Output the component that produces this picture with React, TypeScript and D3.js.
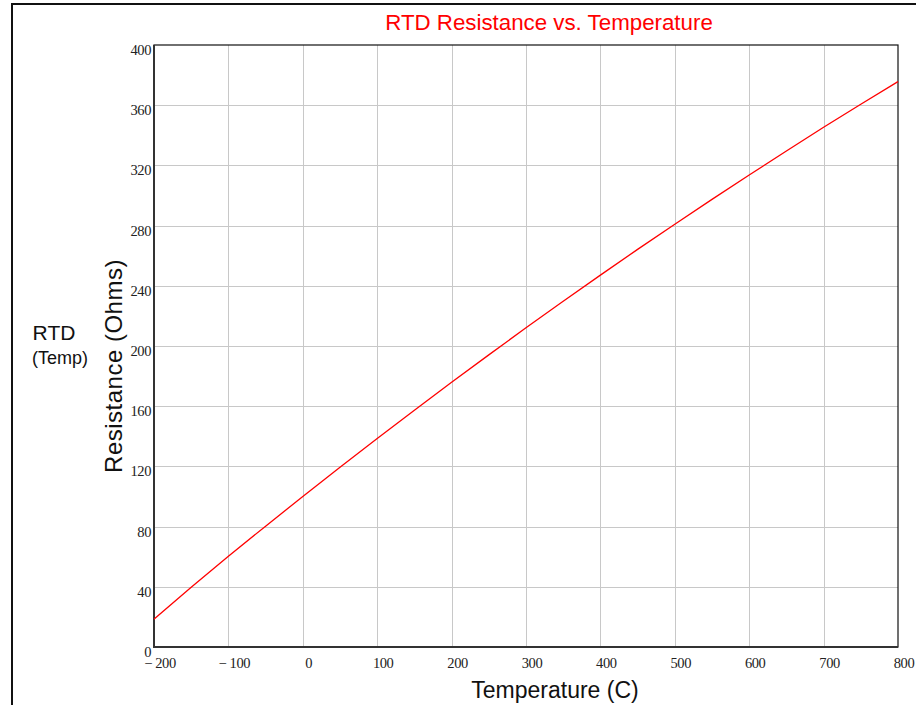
import React, { useRef, useEffect } from 'react';
import * as d3 from 'd3';

// temperature (C) and resistance (Ohms)
const temps = [-200, -150, -100, -50, 0, 50, 100, 150, 200, 250, 300, 350, 400, 450, 500, 550, 600, 650, 700, 750, 800];
const ohms = [18.5, 39.7, 60.3, 80.3, 100, 119.4, 138.5, 157.3, 175.9, 194.1, 212.1, 229.7, 247.1, 264.2, 280.9, 297.4, 313.6, 329.6, 345.3, 360.6, 375.7];
const xTicks = [-200, -100, 0, 100, 200, 300, 400, 500, 600, 700, 800];
const yTicks = [0, 40, 80, 120, 160, 200, 240, 280, 320, 360, 400];

const W = 916;
const H = 705;

export default function App() {
  const svgRef = useRef<SVGSVGElement>(null);

  useEffect(() => {
    const svg = d3.select(svgRef.current);
    svg.selectAll('*').remove();

    const left = 154, right = 898, top = 45, bottom = 647;
    const x = d3.scaleLinear().domain([-200, 800]).range([left, right]);
    const y = d3.scaleLinear().domain([0, 400]).range([bottom, top]);

    // outer frame
    svg.append('rect')
      .attr('x', 12).attr('y', 4)
      .attr('width', W + 20).attr('height', H + 20)
      .attr('fill', 'none').attr('stroke', '#111').attr('stroke-width', 2);

    // grid
    const grid = svg.append('g').attr('stroke', '#c8c8c8').attr('stroke-width', 1);
    grid.selectAll('line.v').data(xTicks.slice(1, -1)).enter().append('line')
      .attr('x1', d => Math.round(x(d)) + 0.5).attr('x2', d => Math.round(x(d)) + 0.5)
      .attr('y1', top).attr('y2', bottom);
    grid.selectAll('line.h').data(yTicks.slice(1, -1)).enter().append('line')
      .attr('y1', d => Math.round(y(d)) + 0.5).attr('y2', d => Math.round(y(d)) + 0.5)
      .attr('x1', left).attr('x2', right);

    // plot border
    svg.append('rect')
      .attr('x', left).attr('y', top)
      .attr('width', right - left).attr('height', bottom - top)
      .attr('fill', 'none').attr('stroke', '#111').attr('stroke-width', 1.2);
    svg.append('path')
      .attr('d', `M${left},${top}V${bottom}H${right}`)
      .attr('fill', 'none').attr('stroke', '#333').attr('stroke-width', 2);

    // curve
    const line = d3.line<number>()
      .x((_, i) => x(temps[i]))
      .y(d => y(d))
      .curve(d3.curveMonotoneX);
    svg.append('path')
      .datum(ohms)
      .attr('d', line)
      .attr('fill', 'none')
      .attr('stroke', '#ff0000')
      .attr('stroke-width', 1.3);

    // tick labels
    const serif = '"Liberation Serif", "Times New Roman", serif';
    svg.append('g').selectAll('text').data(yTicks).enter().append('text')
      .attr('x', left - 3).attr('y', d => y(d) + 10)
      .attr('text-anchor', 'end')
      .style('font-family', serif)
      .style('font-size', '14.5px')
      .style('letter-spacing', '-0.4px')
      .attr('fill', '#222')
      .text(d => String(d));

    svg.append('g').selectAll('text').data(xTicks).enter().append('text')
      .attr('x', d => x(d) + 6).attr('y', bottom + 21)
      .attr('text-anchor', 'middle')
      .style('font-family', serif)
      .style('font-size', '14.5px')
      .style('letter-spacing', '-0.4px')
      .attr('fill', '#222')
      .text(d => (d < 0 ? '\u2212 ' + Math.abs(d) : String(d)));

    const sans = '"Liberation Sans", Arial, sans-serif';

    svg.append('text')
      .attr('x', 549).attr('y', 30)
      .attr('text-anchor', 'middle')
      .style('font-family', sans).style('font-size', '22.3px')
      .attr('fill', '#ff0000')
      .text('RTD Resistance vs. Temperature');

    svg.append('text')
      .attr('x', 555).attr('y', 698)
      .attr('text-anchor', 'middle')
      .style('font-family', sans).style('font-size', '23px')
      .attr('fill', '#111')
      .text('Temperature (C)');

    svg.append('text')
      .attr('transform', 'translate(122,366) rotate(-90)')
      .attr('text-anchor', 'middle')
      .style('font-family', sans).style('font-size', '24px')
      .style('letter-spacing', '0.5px')
      .attr('fill', '#111')
      .text('Resistance (Ohms)');

    svg.append('text')
      .attr('x', 54).attr('y', 340)
      .attr('text-anchor', 'middle')
      .style('font-family', sans).style('font-size', '21px')
      .attr('fill', '#111')
      .text('RTD');

    svg.append('text')
      .attr('x', 60).attr('y', 364)
      .attr('text-anchor', 'middle')
      .style('font-family', sans).style('font-size', '18px')
      .attr('fill', '#111')
      .text('(Temp)');
  }, []);

  return (
    <svg
      ref={svgRef}
      width={W}
      height={H}
      style={{ position: 'absolute', left: 0, top: 0, background: '#fff' }}
    />
  );
}
